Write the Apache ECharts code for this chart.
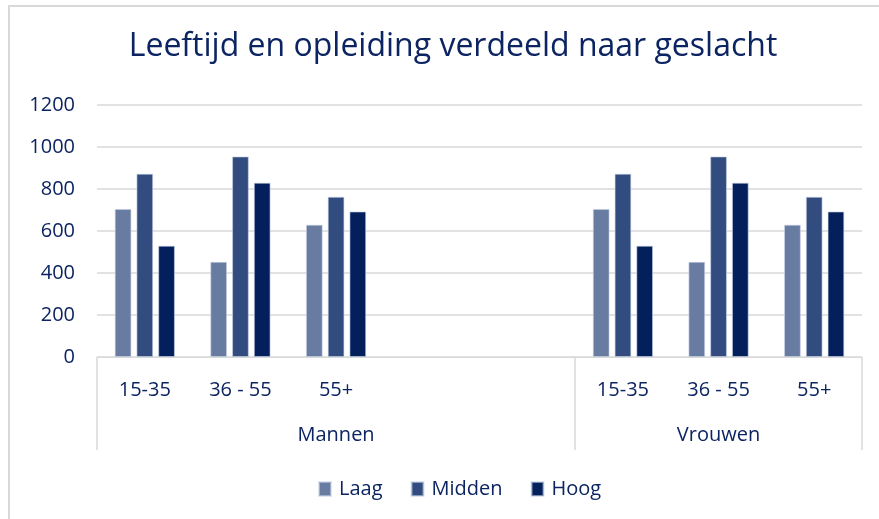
<!DOCTYPE html>
<html lang="nl">
<head>
    <meta charset="UTF-8">
    <title>Leeftijd en opleiding</title>
    <script src="https://cdn.jsdelivr.net/npm/echarts@6/dist/echarts.min.js"></script>
    <style>
        html, body { margin: 0; padding: 0; background: #fff; }
        #main { width: 879px; height: 519px; }
    </style>
</head>
<body>
    <div id="main"></div>
    <script>
        // leeftijdsgroepen per geslacht (2 lege plekken tussen Mannen en Vrouwen)
        var ageLabels = ['15-35', '36 - 55', '55+', '', '', '15-35', '36 - 55', '55+'];
        var groups = ['Mannen', 'Vrouwen'];
        var groupSizes = [5, 3];

        var laag = [705, 453, 630, null, null, 705, 453, 630];
        var midden = [873, 955, 763, null, null, 873, 955, 763];
        var hoog = [530, 830, 693, null, null, 530, 830, 693];

        var textColor = '#0c2461';
        var fontFam = '"Open Sans", "Noto Sans", sans-serif';

        // tweede as: halve stappen, zodat groepsnaam midden in de groep komt
        var groupAxis = [];
        var tickIdx = [0];
        var pos = 0;
        groups.forEach(function (g, i) {
            var n = groupSizes[i] * 2;
            for (var k = 0; k < n; k++) groupAxis.push(k === groupSizes[i] ? g : '');
            pos += n;
            tickIdx.push(pos);
        });
        groupAxis.push('');

        var myChart = echarts.init(document.getElementById('main'));

        function bar(name, data, color) {
            return {
                name: name,
                type: 'bar',
                data: data,
                barGap: '30%',
                barCategoryGap: '37%',
                itemStyle: { color: color, borderColor: 'rgba(200,210,230,0.6)', borderWidth: 1 }
            };
        }

        var option = {
            animation: false,
            textStyle: { fontFamily: fontFam },
            title: {
                text: 'Leeftijd en opleiding verdeeld naar geslacht',
                left: 448,
                top: 26,
                textAlign: 'center',
                textStyle: { color: textColor, fontSize: 32, fontWeight: 'normal', fontFamily: fontFam }
            },
            grid: { left: 97, right: 17, top: 105, bottom: 162 },
            legend: {
                top: 474,
                left: 313,
                icon: 'rect',
                itemWidth: 12,
                itemHeight: 14,
                itemGap: 28,
                textStyle: { color: textColor, fontSize: 20, padding: [0, 0, 0, 3] },
                data: ['Laag', 'Midden', 'Hoog']
            },
            xAxis: [
                {
                    type: 'category',
                    data: ageLabels,
                    axisLine: { lineStyle: { color: '#d9d9d9', width: 1 } },
                    axisTick: { show: false },
                    axisLabel: { color: textColor, fontSize: 20, margin: 23, interval: 0 }
                },
                {
                    type: 'category',
                    data: groupAxis,
                    position: 'bottom',
                    boundaryGap: false,
                    axisLine: { show: false },
                    axisTick: {
                        show: true,
                        length: 93,
                        inside: false,
                        interval: function (index) { return tickIdx.indexOf(index) >= 0; },
                        lineStyle: { color: '#d9d9d9', width: 1.5 }
                    },
                    axisLabel: { color: textColor, fontSize: 20, margin: 68, interval: 0 }
                }
            ],
            yAxis: {
                type: 'value',
                min: 0,
                max: 1200,
                interval: 200,
                axisLine: { show: false },
                axisTick: { show: false },
                axisLabel: { color: textColor, fontSize: 20, margin: 22, formatter: function (v) { return String(v); } },
                splitLine: { lineStyle: { color: '#d9d9d9', width: 1.5 } }
            },
            graphic: [
                {
                    type: 'rect',
                    shape: { x: 9, y: 6, width: 900, height: 600 },
                    style: { fill: null, stroke: '#d9d9d9', lineWidth: 2 },
                    silent: true
                }
            ],
            series: [
                bar('Laag', laag, '#687ba0'),
                bar('Midden', midden, '#324c80'),
                bar('Hoog', hoog, '#03205c')
            ]
        };

        option && myChart.setOption(option);
    </script>
</body>
</html>
